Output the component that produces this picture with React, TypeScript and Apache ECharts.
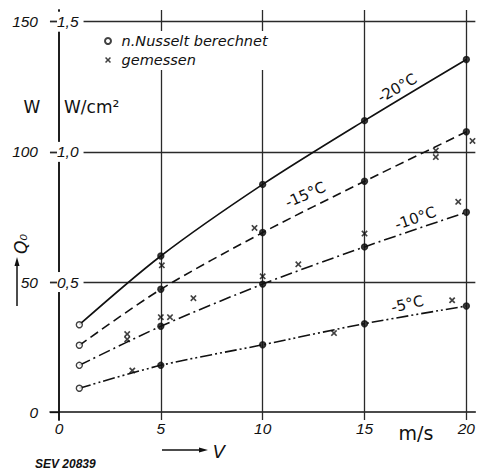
import React, { useEffect, useRef } from "react";
import * as echarts from "echarts";

// Velocity v (m/s) of computed points
const velocities = [1, 5, 10, 15, 20];
// Computed Q0 (W) "n. Nusselt berechnet" for each temperature
const q20 = [33.6, 60.0, 87.5, 112.0, 135.5];
const q15 = [25.7, 47.2, 69.0, 88.7, 107.7];
const q10 = [18.0, 33.0, 49.2, 63.5, 76.8];
const q5 = [9.2, 18.0, 25.9, 34.0, 40.8];
const curveNames = ["-20°C", "-15°C", "-10°C", "-5°C"];

// Measured points "gemessen"
const measuredV = [3.35, 3.35, 3.6, 5.05, 5.0, 5.45, 6.6, 9.6, 10.0, 11.75, 13.5, 15.0, 18.5, 18.5, 19.3, 19.6, 20.3];
const measuredQ = [30.0, 28.0, 16.0, 56.4, 36.5, 36.5, 43.8, 70.8, 52.2, 56.8, 30.4, 68.6, 100.5, 98.0, 43.0, 80.8, 104.2];

// Axis ticks
const xTicks = [0, 5, 10, 15, 20];
const yTicksW = [0, 50, 100, 150];
const yTicksWcm = [0.5, 1.0, 1.5];
const xGridLines = [5, 10, 15, 20];
const yGridLines = [50, 100, 150];

const INK = "#111";
const FONT = "Liberation Sans";
const FONT2 = "DejaVu Sans";
const CROSS = "path://M0,1.8L1.8,0L5,3.2L8.2,0L10,1.8L6.8,5L10,8.2L8.2,10L5,6.8L1.8,10L0,8.2L3.2,5Z";

export default function App() {
  const ref = useRef<HTMLDivElement>(null);
  useEffect(() => {
    if (!ref.current) return;
    const chart = echarts.init(ref.current, null, { renderer: "svg" });
    const curves = [q20, q15, q10, q5];
    const dashes: any[] = ["solid", [9, 5], [12, 4, 2, 4], [12, 3, 2, 3, 2, 3]];
    const labelCfg = [
      { at: [16.6, 124.5], rot: 30 },
      { at: [12.1, 83.5], rot: 24 },
      { at: [17.5, 74.5], rot: 19 },
      { at: [17.1, 41.5], rot: 13 },
    ];
    const lineSeries = curves.map((vals, i) => ({
      type: "line",
      name: curveNames[i],
      data: velocities.map((v, j) => [v, vals[j]]),
      smooth: 0.3,
      showSymbol: false,
      symbol: "none",
      lineStyle: { color: INK, width: 1.6, type: dashes[i] },
      z: 3,
      markPoint: {
        symbol: "circle",
        symbolSize: 1,
        itemStyle: { color: "rgba(0,0,0,0)" },
        label: {
          show: true,
          position: "inside",
          formatter: curveNames[i],
          rotate: labelCfg[i].rot,
          color: INK,
          fontFamily: FONT2,
          fontSize: 15,
        },
        data: [{ coord: labelCfg[i].at }],
      },
      ...(i === 0
        ? {
            markLine: {
              silent: true,
              symbol: "none",
              label: { show: false },
              lineStyle: { color: "#2a2a2a", width: 1.3, type: "solid" },
              z: 1,
              data: [
                ...xGridLines.map((x) => ({ xAxis: x })),
                ...yGridLines.map((y) => ({ yAxis: y })),
              ],
            },
          }
        : {}),
    }));

    const calcData: any[] = [];
    curves.forEach((vals) =>
      velocities.forEach((v, j) =>
        calcData.push(
          j === 0
            ? { value: [v, vals[j]] }
            : { value: [v, vals[j]], itemStyle: { color: INK } }
        )
      )
    );

    const axisLabelBase = { color: INK, fontFamily: FONT, fontStyle: "italic", fontSize: 15.5 };

    chart.setOption({
      animation: false,
      backgroundColor: "#fff",
      grid: { left: 50, right: 0, top: 10, bottom: 53 },
      xAxis: {
        type: "value",
        min: -0.44,
        max: 20.44,
        axisLine: { show: true, onZero: true, onZeroAxisIndex: 0, lineStyle: { color: INK, width: 1.5 } },
        axisTick: { show: false },
        splitLine: { show: false },
        axisLabel: { ...axisLabelBase, margin: 0, customValues: xTicks },
      },
      yAxis: [
        {
          type: "value",
          min: -3,
          max: 154.5,
          position: "left",
          axisLine: { show: true, onZero: true, onZeroAxisIndex: 0, lineStyle: { color: INK, width: 1.5 } },
          axisTick: { show: true, length: 9, customValues: yTicksW, lineStyle: { color: INK, width: 1.3 } },
          splitLine: { show: false },
          axisLabel: { ...axisLabelBase, margin: 12, customValues: yTicksW },
        },
        {
          type: "value",
          min: -0.03,
          max: 1.545,
          position: "left",
          z: 10,
          axisLine: { show: true, onZero: true, onZeroAxisIndex: 0, lineStyle: { color: INK, width: 1.5 } },
          axisTick: { show: true, inside: true, length: 7, customValues: yTicksWcm, lineStyle: { color: INK, width: 1.3 } },
          splitLine: { show: false },
          axisLabel: {
            ...axisLabelBase,
            inside: true,
            margin: 7,
            customValues: yTicksWcm,
            formatter: (v: number) => v.toFixed(1).replace(".", ","),
            backgroundColor: "#fff",
            padding: [2, 5, 2, 0],
          },
        },
      ],
      legend: {
        left: 101,
        top: 31,
        orient: "vertical",
        z: 10,
        backgroundColor: "#fff",
        padding: [2, 4, 2, 3],
        itemWidth: 9,
        itemHeight: 6,
        itemGap: 3,
        data: ["n.Nusselt berechnet", "gemessen"],
        textStyle: { color: INK, fontFamily: FONT2, fontStyle: "italic", fontSize: 14.5, lineHeight: 16, padding: [0, 0, 0, 4] },
      },
      series: [
        ...lineSeries,
        {
          type: "scatter",
          name: "n.Nusselt berechnet",
          symbol: "circle",
          symbolSize: 6,
          itemStyle: { color: "#fff", borderColor: INK, borderWidth: 1.4 },
          data: calcData,
          z: 4,
        },
        {
          type: "scatter",
          name: "gemessen",
          symbol: CROSS,
          symbolSize: 6.5,
          itemStyle: { color: INK },
          data: measuredV.map((v, i) => [v, measuredQ[i]]),
          z: 4,
        },
      ],
      graphic: [
        { type: "text", x: 32, y: 107, style: { text: "W", font: `17px ${FONT2}`, fill: INK, align: "center", verticalAlign: "middle" } },
        { type: "text", x: 64, y: 107, style: { text: "W/cm²", font: `17px ${FONT2}`, fill: INK, align: "left", verticalAlign: "middle" } },
        { type: "text", x: 21, y: 244, rotation: Math.PI / 2, style: { text: "Q₀", font: `italic 17px ${FONT2}`, fill: INK, align: "center", verticalAlign: "middle" } },
        { type: "line", shape: { x1: 17, y1: 306, x2: 17, y2: 264 }, style: { stroke: INK, lineWidth: 1.5 } },
        { type: "polygon", shape: { points: [[17, 257], [14.5, 266], [19.5, 266]] }, style: { fill: INK } },
        { type: "line", shape: { x1: 162, y1: 450, x2: 201, y2: 450 }, style: { stroke: INK, lineWidth: 1.5 } },
        { type: "polygon", shape: { points: [[208, 450], [199, 447.5], [199, 452.5]] }, style: { fill: INK } },
        { type: "text", x: 219, y: 451, style: { text: "V", font: `italic 18px ${FONT2}`, fill: INK, align: "center", verticalAlign: "middle" } },
        { type: "text", x: 416, y: 433, style: { text: "m/s", font: `19px ${FONT2}`, fill: INK, align: "center", verticalAlign: "middle" } },
        { type: "text", x: 35, y: 464, style: { text: "SEV 20839", font: `italic bold 12px ${FONT}`, fill: INK, align: "left", verticalAlign: "middle" } },
      ],
    });
    return () => chart.dispose();
  }, []);
  return <div ref={ref} style={{ position: "absolute", left: 0, top: 0, width: 478, height: 473 }} />;
}
